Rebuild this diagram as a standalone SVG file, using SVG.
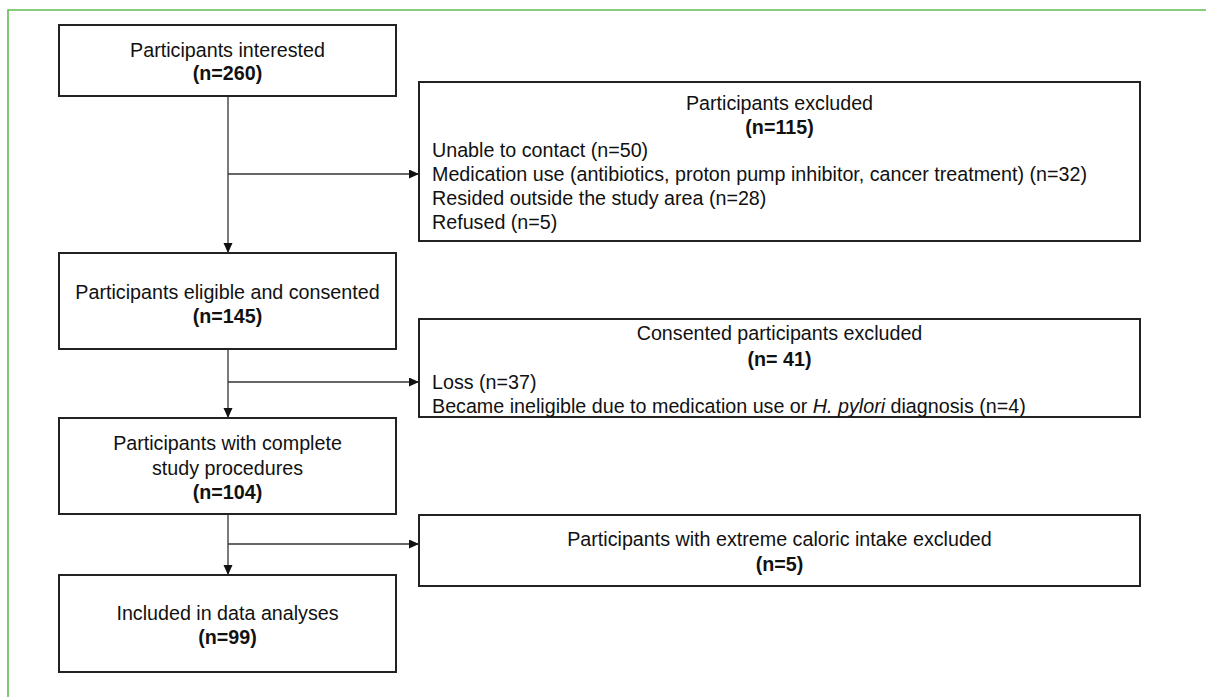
<svg xmlns="http://www.w3.org/2000/svg" width="1206" height="697" viewBox="0 0 1206 697">
<defs>
<style>
.frame{fill:none;stroke:#62bd52;stroke-width:1.6}
.box{fill:#fff;stroke:#222;stroke-width:2}
.conn{fill:none;stroke:#333;stroke-width:1.3}
text{font-family:"Liberation Sans",Arial,Helvetica,sans-serif;font-size:19.7px;fill:#111}
.c{text-anchor:middle}
.b{font-weight:bold}
</style>
<marker id="arr" markerUnits="userSpaceOnUse" markerWidth="11" markerHeight="10" refX="10" refY="4.5" orient="auto">
<path d="M0,0 L10,4.5 L0,9 z" fill="#111"/>
</marker>
</defs>
<rect width="1206" height="697" fill="#fff"/>
<path class="frame" d="M8,697 V10 H1206"/>

<g id="connectors">
<path class="conn" d="M228,96 V253" marker-end="url(#arr)"/>
<path class="conn" d="M228,174 H419" marker-end="url(#arr)"/>
<path class="conn" d="M228,349 V418" marker-end="url(#arr)"/>
<path class="conn" d="M228,382 H419" marker-end="url(#arr)"/>
<path class="conn" d="M228,514 V575" marker-end="url(#arr)"/>
<path class="conn" d="M228,544 H419" marker-end="url(#arr)"/>
</g>

<g id="interested">
<rect class="box" x="59" y="25" width="337" height="71"/>
<text class="c" x="227.5" y="57">Participants interested</text>
<text class="c b" x="227.5" y="80">(n=260)</text>
</g>

<g id="excluded">
<rect class="box" x="419" y="82" width="721" height="159"/>
<text class="c" x="779.5" y="110">Participants excluded</text>
<text class="c b" x="779.5" y="134">(n=115)</text>
<text x="432" y="157">Unable to contact (n=50)</text>
<text x="432" y="181">Medication use (antibiotics, proton pump inhibitor, cancer treatment) (n=32)</text>
<text x="432" y="205">Resided outside the study area (n=28)</text>
<text x="432" y="229">Refused (n=5)</text>
</g>

<g id="eligible">
<rect class="box" x="59" y="253" width="337" height="96"/>
<text class="c" x="227.5" y="299">Participants eligible and consented</text>
<text class="c b" x="227.5" y="323">(n=145)</text>
</g>

<g id="consented-excluded">
<rect class="box" x="419" y="319" width="721" height="98"/>
<text class="c" x="779.5" y="340">Consented participants excluded</text>
<text class="c b" x="779.5" y="366">(n= 41)</text>
<text x="432" y="389">Loss (n=37)</text>
<text x="432" y="413">Became ineligible due to medication use or <tspan font-style="italic">H. pylori</tspan> diagnosis (n=4)</text>
</g>

<g id="complete">
<rect class="box" x="59" y="418" width="337" height="96"/>
<text class="c" x="227.5" y="450">Participants with complete</text>
<text class="c" x="227.5" y="475">study procedures</text>
<text class="c b" x="227.5" y="499">(n=104)</text>
</g>

<g id="caloric-excluded">
<rect class="box" x="419" y="515" width="721" height="71"/>
<text class="c" x="779.5" y="546">Participants with extreme caloric intake excluded</text>
<text class="c b" x="779.5" y="571">(n=5)</text>
</g>

<g id="included">
<rect class="box" x="59" y="575" width="337" height="97"/>
<text class="c" x="227.5" y="620">Included in data analyses</text>
<text class="c b" x="227.5" y="644">(n=99)</text>
</g>
</svg>
